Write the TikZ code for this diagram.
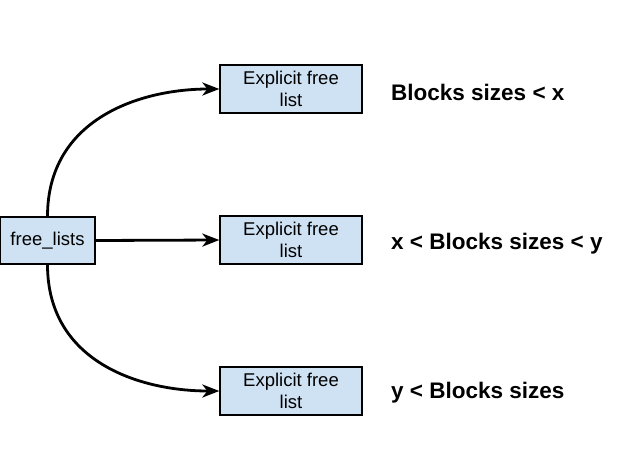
\documentclass[tikz,border=0pt]{standalone}
\usepackage{fontspec}
\setmainfont{Liberation Sans}
\usetikzlibrary{arrows.meta}
\definecolor{boxblue}{HTML}{CFE2F3}
\begin{document}
\begin{tikzpicture}[x=1pt,y=-1pt,
  box/.style={draw=black, line width=1.3pt, fill=boxblue, minimum width=142pt, minimum height=48pt, inner sep=0pt, align=center, font=\fontsize{18.5}{22}\selectfont},
  srcbox/.style={box, minimum width=95pt, minimum height=47pt},
  lbl/.style={anchor=base west, inner sep=0pt, font=\fontsize{22.5}{26}\selectfont\bfseries},
  conn/.style={line width=2.8pt, -{Stealth[length=17pt,width=13pt,inset=5pt]}}]
\useasboundingbox (0,0) rectangle (628,458);
\node[srcbox] (fl) at (47.5,240.5) {free\_lists};
\node[box] (b1) at (291,89) {Explicit free\\list};
\node[box] (b2) at (291,240) {Explicit free\\list};
\node[box] (b3) at (291,391) {Explicit free\\list};
\node[lbl] (l1) at (391,100) {Blocks sizes < x};
\node[lbl] (l2) at (391,249) {x < Blocks sizes < y};
\node[lbl] (l3) at (391,398) {y < Blocks sizes};
\draw[conn] (fl.north) .. controls +(0,-97) and +(-80,0) .. (b1.west);
\draw[conn] (fl.east) -- (b2.west);
\draw[conn] (fl.south) .. controls +(0,97) and +(-80,0) .. (b3.west);
\end{tikzpicture}
\end{document}
